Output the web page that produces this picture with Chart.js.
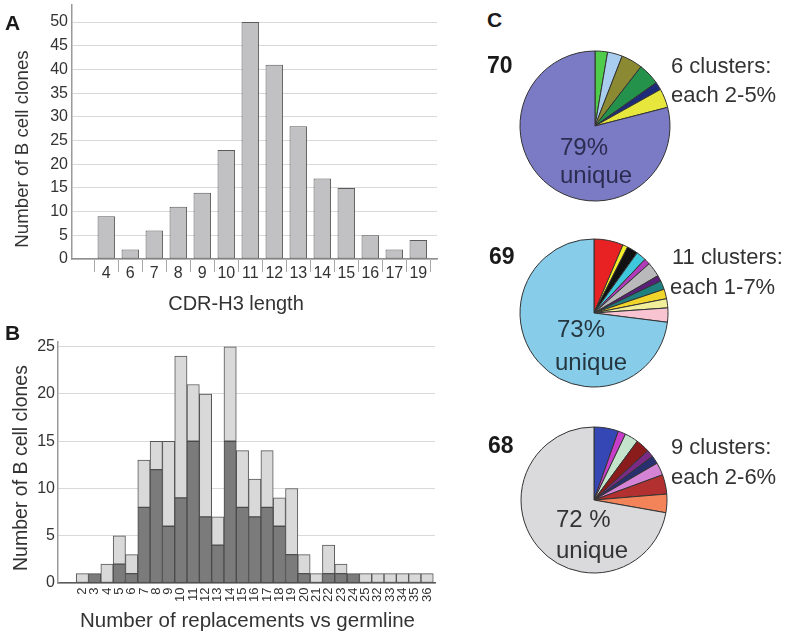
<!DOCTYPE html>
<html><head><meta charset="utf-8">
<script src="https://cdn.jsdelivr.net/npm/chart.js@4.4.1/dist/chart.umd.min.js"></script>
<style>
body{margin:0;background:#fff;width:791px;height:637px;overflow:hidden;position:relative;font-family:'Liberation Sans',Arial,sans-serif;}
canvas{position:absolute;}
.t{position:absolute;white-space:nowrap;line-height:1;color:#333;font-size:22px;}
.b{font-weight:bold;color:#1a1a1a;}
.yt{transform:translate(-50%,-50%) rotate(-90deg);}
.xt{transform:translateX(-50%);}
</style></head><body>
<canvas id="ca" width="450" height="318" style="left:0;top:0"></canvas>
<canvas id="cb" width="450" height="322" style="left:0;top:315px"></canvas>
<canvas id="p1" width="170" height="170" style="left:510px;top:41px"></canvas>
<canvas id="p2" width="170" height="170" style="left:509px;top:228px"></canvas>
<canvas id="p3" width="170" height="170" style="left:509px;top:415px"></canvas>

<div class="t b" style="left:5px;top:11.5px;font-size:21px">A</div>
<div class="t b" style="left:5px;top:322px;font-size:21px">B</div>
<div class="t b" style="left:487px;top:9px;font-size:21px">C</div>

<div id="ayt" class="t yt" style="left:21.5px;top:148.5px;font-size:18.7px"></div>
<div id="axt" class="t xt" style="left:236px;top:293px;font-size:20px"></div>
<div id="byt" class="t yt" style="left:21px;top:467.5px;font-size:19.5px"></div>
<div id="bxt" class="t xt" style="left:247.5px;top:609.5px;font-size:20.5px"></div>

<div id="n1" class="t b" style="left:487px;top:54px;font-size:23px"></div>
<div id="c1a" class="t" style="left:671px;top:55px"></div>
<div id="c1b" class="t" style="left:671px;top:84px"></div>
<div id="u1a" class="t" style="left:560px;top:135px;font-size:24px;color:#2c2c52"></div>
<div id="u1b" class="t" style="left:560px;top:163px;font-size:24px;color:#2c2c52"></div>

<div id="n2" class="t b" style="left:489px;top:245px;font-size:23px"></div>
<div id="c2a" class="t" style="left:672px;top:246px"></div>
<div id="c2b" class="t" style="left:670px;top:276px"></div>
<div id="u2a" class="t" style="left:557px;top:317px;font-size:24px;color:#263640"></div>
<div id="u2b" class="t" style="left:555px;top:350px;font-size:24px;color:#263640"></div>

<div id="n3" class="t b" style="left:488px;top:434px;font-size:23px"></div>
<div id="c3a" class="t" style="left:671px;top:436px"></div>
<div id="c3b" class="t" style="left:671px;top:466px"></div>
<div id="u3a" class="t" style="left:556px;top:507px;font-size:24px"></div>
<div id="u3b" class="t" style="left:556px;top:538px;font-size:24px"></div>

<script>
// ---------- Data ----------
const cdrLengths = ['4','6','7','8','9','10','11','12','13','14','15','16','17','19'];
const cloneCounts = [9,2,6,11,14,23,50,41,28,17,15,5,2,4];
const cdrTicks = [0,5,10,15,20,25,30,35,40,45,50];

const replacementLabels = ['2','3','4','5','6','7','8','9','10','11','12','13','14','15','16','17','18','19','20','21','22','23','24','25','32','33','34','35','36'];
const darkCounts  = [0,1,0,2,1,8,12,6,9,15,7,4,15,8,7,8,6,3,1,0,1,1,1,0,0,0,0,0,0];
const lightCounts = [1,0,2,3,2,5,3,9,15,6,13,3,10,6,4,6,3,7,2,1,3,1,0,1,1,1,1,1,1];
const replTicks = [0,5,10,15,20,25];

const pie70Values = [2.7,3.2,4.6,4.7,1.7,4.1,79];
const pie69Values = [6.4,1.1,2.4,2.2,1.3,3.2,1.3,1.9,2.1,2.0,3.1,73];
const pie68Values = [5.4,1.7,3.0,3.1,1.6,1.8,2.8,4.3,4.1,72.2];
const pieTitles = ['70','69','68'];
const pieClusterText = [['6 clusters:','each 2-5%'],['11 clusters:','each 1-7%'],['9 clusters:','each 2-6%']];
const pieUniqueText = [['79%','unique'],['73%','unique'],['72 %','unique']];

const axisTitles = {aY:'Number of B cell clones', aX:'CDR-H3 length', bY:'Number of B cell clones', bX:'Number of replacements vs germline'};

// ---------- Styles ----------
const pie70Colors = ['#4fcc4a','#a9cdef','#8b8a33','#24924a','#1e2a7a','#e6e63c','#7b7bc5'];
const pie69Colors = ['#e82222','#f2ee2a','#111111','#3fc7dc','#b03ab8','#b9b9bb','#5a1f78','#1f8080','#f2d52a','#f2ef9a','#f9c4d2','#87cdea'];
const pie68Colors = ['#3447b5','#c93ec9','#c4e4cc','#8a1c1c','#7b2a86','#283070','#d583d5','#b23030','#f3845a','#dadadd'];

Chart.defaults.font.family = "'Liberation Sans', Arial, sans-serif";
Chart.defaults.color = '#333';
const common = {responsive:false, animation:false, events:[], plugins:{legend:{display:false}, tooltip:{enabled:false}}};

// ---------- Panel A ----------
new Chart(document.getElementById('ca'), {
  type:'bar',
  data:{datasets:[{data:cloneCounts.map((v,i)=>({x:i,y:v})), backgroundColor:'#c1c1c4', borderColor:'#5a5a5a', borderWidth:1, borderSkipped:false, barPercentage:0.73, categoryPercentage:1}]},
  options:Object.assign({}, common, {
    layout:{padding:{left:0,top:5,right:13,bottom:0}},
    scales:{
      x:{type:'linear', offset:false, min:-1.43, max:13.78,
        afterBuildTicks:s=>{s.ticks = cdrLengths.map((_,i)=>({value:i}));},
        afterFit:s=>{s.height=59; s.paddingLeft=0; s.paddingRight=0;},
        ticks:{callback:v=>cdrLengths[v], autoSkip:false, maxRotation:0, font:{size:16}, padding:-7.6, color:'#333'},
        grid:{offset:true, drawOnChartArea:false, drawTicks:true, tickLength:13, color:'#a8a8a8'},
        border:{display:true, color:'#8f8f8f', width:1.5}
      },
      y:{min:0, max:53.6,
        afterBuildTicks:s=>{s.ticks = cdrTicks.map(v=>({value:v}));},
        afterFit:s=>{s.width=72; s.paddingTop=0; s.paddingBottom=0;},
        ticks:{font:{size:16}, padding:4, color:'#333'},
        grid:{color:'#d9d9d9', drawTicks:false},
        border:{display:true, color:'#9a9a9a', width:1.5}
      }
    }
  })
});

// ---------- Panel B ----------
new Chart(document.getElementById('cb'), {
  type:'bar',
  data:{datasets:[
    {data:darkCounts.map((v,i)=>({x:i,y:v})), backgroundColor:'#7b7b7b', borderColor:'#4a4a4a', borderWidth:1, borderSkipped:false, barPercentage:1, categoryPercentage:1},
    {data:lightCounts.map((v,i)=>({x:i,y:v})), backgroundColor:'#d9d9d9', borderColor:'#555', borderWidth:1, borderSkipped:false, barPercentage:1, categoryPercentage:1}
  ]},
  options:Object.assign({}, common, {
    layout:{padding:{left:0,top:27,right:15,bottom:0}},
    scales:{
      x:{type:'linear', stacked:true, offset:false, min:-1.98, max:28.64,
        afterBuildTicks:s=>{s.ticks = replacementLabels.map((_,i)=>({value:i}));},
        afterFit:s=>{s.height=54; s.paddingLeft=0; s.paddingRight=0;},
        ticks:{callback:v=>replacementLabels[v], autoSkip:false, minRotation:90, maxRotation:90, font:{size:13}, padding:4.5, color:'#333'},
        grid:{display:false, drawTicks:false},
        border:{display:true, color:'#5a5a5a', width:1.5}
      },
      y:{stacked:true, min:0, max:25.5,
        afterBuildTicks:s=>{s.ticks = replTicks.map(v=>({value:v}));},
        afterFit:s=>{s.width=58; s.paddingTop=0; s.paddingBottom=0;},
        ticks:{font:{size:16}, padding:3, color:'#333'},
        grid:{color:'#d9d9d9', drawTicks:false},
        border:{display:true, color:'#9a9a9a', width:1.5}
      }
    }
  })
});

// ---------- Panel C ----------
function pie(id, values, colors, r){
  new Chart(document.getElementById(id), {
    type:'pie',
    data:{datasets:[{data:values, backgroundColor:colors, borderColor:'#333', borderWidth:1, radius:r}]},
    options:Object.assign({}, common, {layout:{padding:0}})
  });
}
pie('p1', pie70Values, pie70Colors, 75);
pie('p2', pie69Values, pie69Colors, 74);
pie('p3', pie68Values, pie68Colors, 73);

document.getElementById('ayt').textContent = axisTitles.aY;
document.getElementById('axt').textContent = axisTitles.aX;
document.getElementById('byt').textContent = axisTitles.bY;
document.getElementById('bxt').textContent = axisTitles.bX;
[1,2,3].forEach(k=>{
  document.getElementById('n'+k).textContent = pieTitles[k-1];
  document.getElementById('c'+k+'a').textContent = pieClusterText[k-1][0];
  document.getElementById('c'+k+'b').textContent = pieClusterText[k-1][1];
  document.getElementById('u'+k+'a').textContent = pieUniqueText[k-1][0];
  document.getElementById('u'+k+'b').textContent = pieUniqueText[k-1][1];
});
</script>
</body></html>
